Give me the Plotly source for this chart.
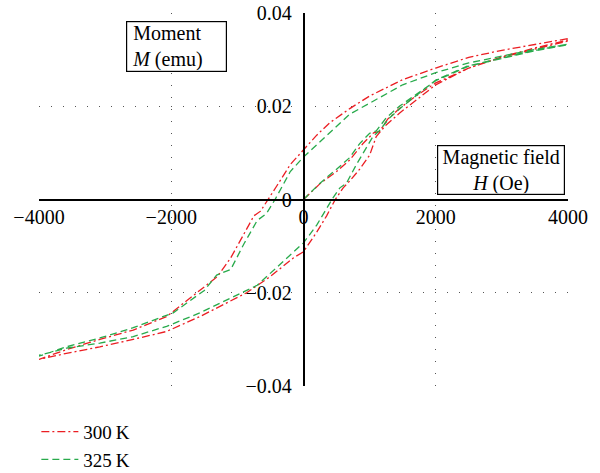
import plotly.graph_objects as go

# ---- data (H in Oe, M in emu) ----
# 300 K : virgin curve, descending branch, ascending branch
h300_virgin = [0, 250, 500, 700, 900, 1060, 1150, 1270, 1450, 1700, 2000, 2500, 3000, 3500, 4000]
m300_virgin = [0.0, 0.0034, 0.0060, 0.0085, 0.0120, 0.0143, 0.0146, 0.0172, 0.0195, 0.0222, 0.0250, 0.0282, 0.0305, 0.0323, 0.0340]
h300_desc = [4000, 3500, 3000, 2500, 2000, 1500, 1000, 700, 400, 200, 0, -200, -400, -530, -650, -750, -900, -1100, -1300, -1560, -2070, -2575, -3080, -3586, -4000]
m300_desc = [0.0345, 0.0333, 0.0320, 0.0305, 0.0282, 0.0257, 0.0222, 0.0195, 0.0165, 0.0138, 0.0107, 0.0075, 0.0030, 0.0, -0.0025, -0.0035, -0.0075, -0.0125, -0.0165, -0.0194, -0.0251, -0.0280, -0.0300, -0.0322, -0.0343]
h300_asc = [-4000, -3586, -3080, -2575, -2070, -1565, -860, -500, -150, 0, 200, 350, 480, 600, 700, 850, 1000, 1100, 1250, 1450, 1700, 2000, 2500, 3000, 3500, 4000]
m300_asc = [-0.0343, -0.0330, -0.0316, -0.0300, -0.0283, -0.0251, -0.0200, -0.0165, -0.0125, -0.0112, -0.0070, -0.0035, 0.0, 0.0025, 0.0040, 0.0065, 0.0095, 0.0135, 0.0160, 0.0185, 0.0212, 0.0246, 0.0282, 0.0306, 0.0325, 0.0342]

# 325 K
h325_virgin = [0, 250, 500, 700, 850, 1000, 1100, 1250, 1450, 1700, 2000, 2500, 3000, 3500, 4000]
m325_virgin = [0.0, 0.0035, 0.0065, 0.0090, 0.0120, 0.0142, 0.0147, 0.0175, 0.0200, 0.0225, 0.0255, 0.0286, 0.0303, 0.0319, 0.0332]
h325_desc = [4000, 3500, 3000, 2500, 2000, 1500, 700, 300, 0, -200, -430, -560, -700, -900, -1100, -1313, -1500, -1970, -2575, -3080, -3586, -4000]
m325_desc = [0.0333, 0.0322, 0.0308, 0.0293, 0.0272, 0.0246, 0.0183, 0.0130, 0.0091, 0.0060, 0.0, -0.0030, -0.0045, -0.0095, -0.0150, -0.0162, -0.0195, -0.0243, -0.0275, -0.0297, -0.0316, -0.0336]
h325_asc = [-4000, -3586, -3080, -2575, -2070, -1565, -700, -400, -100, 0, 200, 430, 550, 650, 800, 950, 1050, 1150, 1300, 1500, 1700, 2000, 2475, 3000, 3500, 4000]
m325_asc = [-0.0334, -0.0319, -0.0308, -0.0294, -0.0272, -0.0243, -0.0184, -0.0145, -0.0107, -0.0093, -0.0055, 0.0, 0.0025, 0.0035, 0.0075, 0.0110, 0.0135, 0.0148, 0.0175, 0.0200, 0.0222, 0.0256, 0.0286, 0.0304, 0.0320, 0.0333]

x_ticks = [-4000, -2000, 0, 2000, 4000]
y_ticks = [-0.04, -0.02, 0, 0.02, 0.04]
y_tick_text = ["\u22120.04", "\u22120.02", "0", "0.02", "0.04"]
x_tick_text = ["\u22124000", "\u22122000", "0", "2000", "4000"]

FONT = "Liberation Serif"
FS = 20

fig = go.Figure()
fig.add_trace(go.Scatter(
    x=h300_virgin + h300_desc + h300_asc,
    y=m300_virgin + m300_desc + m300_asc,
    mode="lines", name="300\u2009K",
    line=dict(color="rgb(235,30,35)", width=1.3, dash="8px,3px,2px,3px"),
))
fig.add_trace(go.Scatter(
    x=h325_virgin + h325_desc + h325_asc,
    y=m325_virgin + m325_desc + m325_asc,
    mode="lines", name="325\u2009K",
    line=dict(color="rgb(40,170,75)", width=1.3, dash="7px,4px"),
))

axis_common = dict(
    showgrid=True, gridcolor="#555", gridwidth=1, griddash="1px,11px",
    zeroline=False, showline=True, linecolor="black", linewidth=1.5,
    ticks="", tickfont=dict(family=FONT, size=FS, color="black"),
    anchor="free", position=0.5, automargin=False,
)

fig.update_layout(
    width=600, height=473,
    margin=dict(l=39, r=32, t=13, b=87, autoexpand=False),
    plot_bgcolor="white", paper_bgcolor="white",
    font=dict(family=FONT, size=FS, color="black"),
    xaxis=dict(range=[-4000, 4000], tickvals=x_ticks, ticktext=x_tick_text,
               ticklabelstandoff=0, **axis_common),
    yaxis=dict(range=[-0.04, 0.04], tickvals=y_ticks, ticktext=y_tick_text,
               ticklabelstandoff=7, **axis_common),
    showlegend=True,
    legend=dict(x=-0.005, y=-0.072,
                xanchor="left", yanchor="top", bgcolor="rgba(0,0,0,0)",
                font=dict(family=FONT, size=19), itemwidth=37, tracegroupgap=0),
    annotations=[
        dict(text="\u2005Moment<br>\u2005<i>M</i> (emu)", xref="paper", yref="paper",
             x=0.26, y=0.91, xanchor="center", yanchor="middle",
             showarrow=False, align="left", width=97, height=47,
             bordercolor="black", borderwidth=1.2, borderpad=1, bgcolor="white",
             font=dict(family=FONT, size=FS)),
        dict(text="Magnetic field<br><i>H</i> (Oe)", xref="paper", yref="paper",
             x=0.874, y=0.579, xanchor="center", yanchor="middle",
             showarrow=False, align="center", width=124, height=46,
             bordercolor="black", borderwidth=1.2, borderpad=1, bgcolor="white",
             font=dict(family=FONT, size=FS)),
    ],
)

fig.write_html("out.html", config={"displayModeBar": False},
               post_script="document.body.style.margin='0';document.body.style.overflow='hidden';")
